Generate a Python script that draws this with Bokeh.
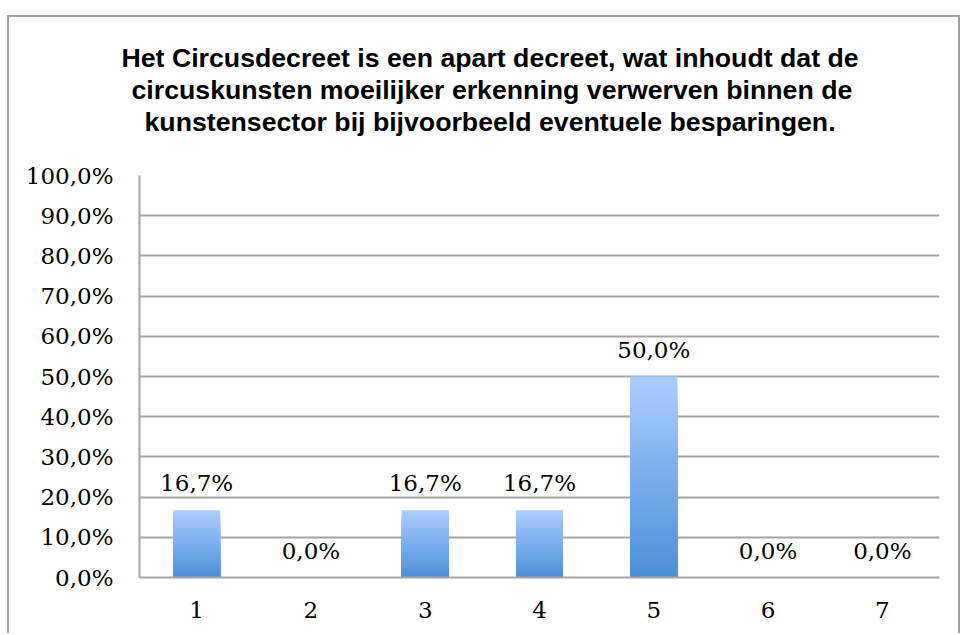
from bokeh.plotting import figure
from bokeh.models import FixedTicker, Title, Spacer
from bokeh.layouts import column, row
from bokeh.core.properties import value
from bokeh.embed import file_html
from bokeh.resources import INLINE

title_lines = [
    "Het Circusdecreet is een apart decreet, wat inhoudt dat de",
    "circuskunsten moeilijker erkenning verwerven binnen de",
    "kunstensector bij bijvoorbeeld eventuele besparingen.",
]
categories = ["1", "2", "3", "4", "5", "6", "7"]
values = [0.167, 0.0, 0.167, 0.167, 0.50, 0.0, 0.0]
value_labels = ["16,7%", "0,0%", "16,7%", "16,7%", "50,0%", "0,0%", "0,0%"]
y_ticks = [0.0, 0.1, 0.2, 0.3, 0.4, 0.5, 0.6, 0.7, 0.8, 0.9, 1.0]
y_tick_labels = ["0,0%", "10,0%", "20,0%", "30,0%", "40,0%", "50,0%",
                 "60,0%", "70,0%", "80,0%", "90,0%", "100,0%"]

GRID = "#a3a3a3"
p = figure(width=953, height=618, x_range=categories, y_range=(0, 1),
           output_backend="svg", toolbar_location=None,
           min_border_left=130, min_border_right=23,
           min_border_top=158, min_border_bottom=58)
p.styles = {"border-top": "2px solid #a0a0a0", "border-left": "2px solid #a0a0a0",
            "border-right": "2px solid #a0a0a0"}
p.outline_line_color = None
p.background_fill_color = "white"
p.border_fill_color = "white"

# gradient bars: overlapping bars from each value, shorter ones darker
top_c = (170, 205, 255)
bot_c = (74, 143, 216)
N = 60
xs, tops, cols = [], [], []
for k in range(N):
    f = 1 - k / N
    col = tuple(int(round(bot_c[i] + (top_c[i] - bot_c[i]) * f)) for i in range(3))
    for c, v in zip(categories, values):
        if v <= 0:
            continue
        xs.append(c)
        tops.append(v * (N - k) / N)
        cols.append("#%02x%02x%02x" % col)
p.vbar(x=xs, bottom=0, top=tops, width=0.41, fill_color=cols, line_color=None)

p.text(x=categories, y=values, text=value_labels, text_align="center", text_baseline="middle",
       y_offset=-27, text_font=value("DejaVu Serif"), text_font_size="23px", text_color="black")

p.xgrid.grid_line_color = None
p.ygrid.grid_line_color = GRID
p.ygrid.grid_line_width = 2
p.yaxis.ticker = FixedTicker(ticks=y_ticks)
p.yaxis.major_label_overrides = {t: l for t, l in zip(y_ticks, y_tick_labels)}
for ax in (p.xaxis[0], p.yaxis[0]):
    ax.axis_line_color = GRID
    ax.axis_line_width = 2
    ax.major_tick_line_color = None
    ax.minor_tick_line_color = None
    ax.major_tick_out = 0
    ax.major_tick_in = 0
    ax.major_label_text_font = "DejaVu Serif"
    ax.major_label_text_font_size = "23px"
    ax.major_label_text_color = "black"
p.yaxis.major_label_standoff = 26
p.xaxis.major_label_standoff = 24

# gap between the title block and the plot area
p.add_layout(Title(text=" ", text_font_size="2px", standoff=35), "above")
title_offsets = [-18, -8, 5]
for t, off in reversed(list(zip(title_lines, title_offsets))):
    p.add_layout(Title(text=t, align="left", offset=off, standoff=0,
                       text_font="Liberation Sans", text_font_style="bold",
                       text_font_size="26.7px", text_color="black"), "above")

layout = column(Spacer(height=15, width=966), row(Spacer(width=7, height=618), p))
open("out.html", "w").write(file_html(layout, INLINE))
